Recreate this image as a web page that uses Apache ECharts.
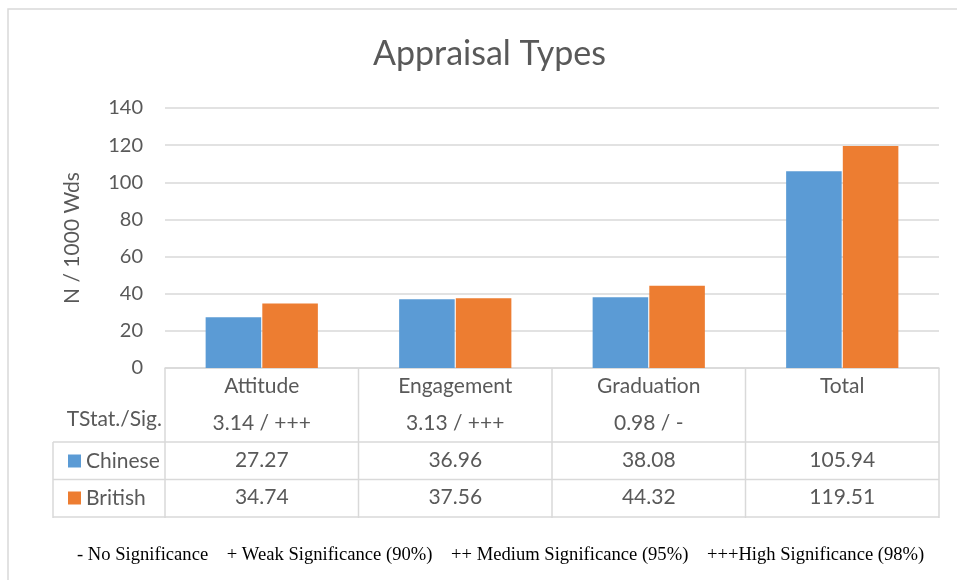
<!DOCTYPE html>
<html>
<head>
<meta charset="utf-8">
<title>Appraisal Types</title>
<script src="https://cdn.jsdelivr.net/npm/echarts@6/dist/echarts.min.js"></script>
<style>
  html, body { margin: 0; padding: 0; background: #fff; }
  #chart { width: 957px; height: 580px; }
</style>
</head>
<body>
<div id="chart"></div>
<script>
// data
const categories = ['Attitude', 'Engagement', 'Graduation', 'Total']
const chineseValues = [27.27, 36.96, 38.08, 105.94]
const britishValues = [34.74, 37.56, 44.32, 119.51]
const tStatLabels = ['3.14 / +++', '3.13 / +++', '0.98 / -', '']
const yTicks = { min: 0, max: 140, interval: 20 }
const footNote = '- No Significance    + Weak Significance (90%)    ++ Medium Significance (95%)    +++High Significance (98%)'

const font = 'Lato'
const fs = 21
const textColor = '#595959'
const lineColor = '#d9d9d9'
const color = ['#5b9bd5', '#ed7d31']

// layout of plot + table (pixels)
const W = 957, H = 580
const gridLeft = 165, gridRight = 18, gridTop = 108, gridBottom = 212
const plotRight = W - gridRight
const axisY = H - gridBottom
const rowH = 37.5
const tableLeft = 53

const chart = echarts.init(document.getElementById('chart'), null, { width: W, height: H })

function tableLines() {
    let lines = []
    const colW = (plotRight - gridLeft) / categories.length
    const yRow1 = axisY + 2 * rowH - 1   // under TStat row
    const yEnd = axisY + 4 * rowH
    // horizontal
    for (let i = 0; i < 3; i++) {
        const y = yRow1 + i * rowH
        lines.push({ type: 'line', shape: { x1: tableLeft, y1: y, x2: plotRight, y2: y }, style: { stroke: lineColor, lineWidth: 1.5 } })
    }
    // vertical
    for (let i = 0; i <= categories.length; i++) {
        const x = gridLeft + i * colW
        lines.push({ type: 'line', shape: { x1: x, y1: axisY, x2: x, y2: yEnd }, style: { stroke: lineColor, lineWidth: 1.5 } })
    }
    lines.push({ type: 'line', shape: { x1: tableLeft, y1: yRow1, x2: tableLeft, y2: yEnd }, style: { stroke: lineColor, lineWidth: 1.5 } })
    return lines
}

function rowAxis(data, offset) {
    return {
        type: 'category',
        data: data,
        position: 'bottom',
        offset: offset,
        axisLine: { show: false },
        axisTick: { show: false },
        axisLabel: { color: textColor, fontSize: fs, fontFamily: font, margin: 7, interval: 0 }
    }
}

const option = {
    animation: false,
    backgroundColor: '#fff',
    title: [{
        text: 'Appraisal Types',
        left: 368,
        top: 32,
        textStyle: { color: textColor, fontSize: 34, fontWeight: 'normal', fontFamily: font }
    }, {
        text: footNote,
        left: 72,
        top: 541,
        textStyle: { color: '#000', fontSize: 18.6, fontWeight: 'normal', fontFamily: 'Liberation Serif' }
    }],
    legend: {
        orient: 'vertical',
        left: 63,
        top: 445,
        icon: 'rect',
        itemWidth: 13,
        itemHeight: 13,
        itemGap: 15,
        data: ['Chinese', 'British'],
        textStyle: { color: textColor, fontSize: fs, fontFamily: font, lineHeight: 22 }
    },
    grid: { left: gridLeft, right: gridRight, top: gridTop, bottom: gridBottom, containLabel: false },
    xAxis: [{
        type: 'category',
        data: categories,
        axisLine: { lineStyle: { color: lineColor, width: 1.5 } },
        axisTick: { show: false },
        axisLabel: { color: textColor, fontSize: fs, fontFamily: font, margin: 8, interval: 0 }
    },
        rowAxis(tStatLabels, 38),
        rowAxis(chineseValues.map(v => v.toFixed(2)), 75),
        rowAxis(britishValues.map(v => v.toFixed(2)), 112)
    ],
    yAxis: {
        type: 'value',
        min: yTicks.min,
        max: yTicks.max,
        interval: yTicks.interval,
        name: 'N / 1000 Wds',
        nameLocation: 'middle',
        nameGap: 82,
        nameMoveOverlap: false,
        nameRotate: 90,
        nameTextStyle: { color: textColor, fontSize: fs, fontFamily: font },
        axisLine: { show: false },
        axisTick: { show: false },
        splitLine: { lineStyle: { color: lineColor, width: 1.5 } },
        axisLabel: { color: textColor, fontSize: 20, fontFamily: font, margin: 22 }
    },
    series: [{
        name: 'Chinese',
        type: 'bar',
        data: chineseValues,
        itemStyle: { color: color[0] },
        barGap: '2%',
        barCategoryGap: '42%'
    }, {
        name: 'British',
        type: 'bar',
        data: britishValues,
        itemStyle: { color: color[1] },
        barGap: '2%',
        barCategoryGap: '42%'
    }],
    graphic: [
        { type: 'rect', shape: { x: 8, y: 9, width: 1000, height: 700 }, style: { fill: 'none', stroke: lineColor, lineWidth: 1.5 }, z: -1 },
        { type: 'text', right: W - 162, top: axisY + rowH + 3, style: { text: 'TStat./Sig.', fill: textColor, font: fs + 'px ' + font, textAlign: 'right' } }
    ].concat(tableLines())
}

chart.setOption(option)
</script>
</body>
</html>
